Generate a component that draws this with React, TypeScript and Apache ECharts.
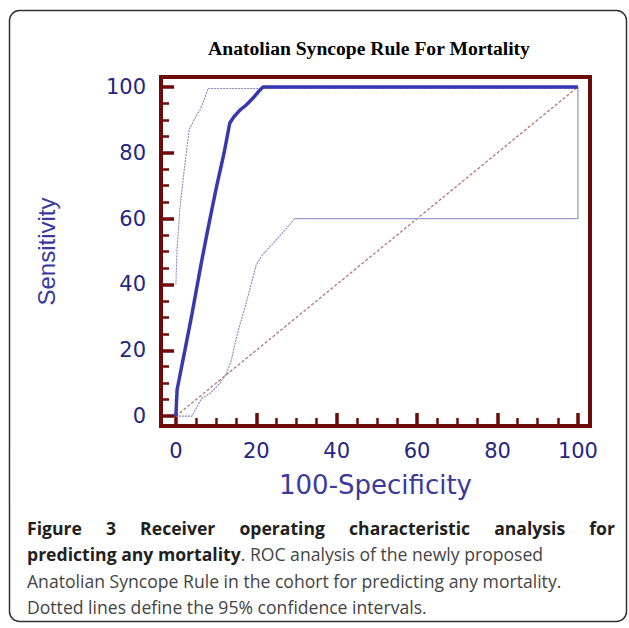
import React, { useEffect, useRef } from "react";
import * as echarts from "echarts";

const TITLE = "Anatolian Syncope Rule For Mortality";
const X_NAME = "100-Specificity";
const Y_NAME = "Sensitivity";
const MAJOR_TICKS = [0, 20, 40, 60, 80, 100];
const MINOR_TICKS = [5, 10, 15, 25, 30, 35, 45, 50, 55, 65, 70, 75, 85, 90, 95];

const rocX = [0, 0.3, 2, 4, 6.4, 8, 10, 12, 13.4, 14.5, 16, 17.5, 19.2, 20.5, 21.7, 100];
const rocY = [0, 8, 18.5, 31, 47, 57, 69, 80, 89, 91, 93, 94.5, 96.6, 98.5, 100, 100];

const upperX = [0, 0.3, 1, 1.8, 2.5, 3.3, 4.5, 6, 7, 8, 100];
const upperY = [40, 51, 63, 72, 79, 87, 90, 93, 96, 99.5, 99.5];

const lowerX = [0, 4, 6.4, 8.5, 10.9, 12.6, 13.8, 14.7, 15.5, 17.2, 20, 21.5, 24.2, 27.1, 29.6];
const lowerY = [0, 0, 5.4, 6.9, 9.9, 13, 17, 22, 26, 33, 46, 49, 52.5, 56.5, 60];

const lowerTailX = [29.6, 100, 100];
const lowerTailY = [60, 60, 100];

const diagX = [0, 100];
const diagY = [0, 100];

const CAPTION_L1 = ["Figure", "3", "Receiver", "operating", "characteristic", "analysis", "for"];
const CAPTION_L2_BOLD = "predicting any mortality";
const CAPTION_L2_NORMAL = ". ROC analysis of the newly proposed";
const CAPTION_L3 = "Anatolian Syncope Rule in the cohort for predicting any mortality.";
const CAPTION_L4 = "Dotted lines define the 95% confidence intervals.";

const zip = (xs: number[], ys: number[]) => xs.map((x, i) => [x, ys[i]]);

export default function App() {
  const ref = useRef<HTMLDivElement>(null);
  useEffect(() => {
    if (!ref.current) return;
    const chart = echarts.init(ref.current, undefined, { renderer: "svg" });

    const capFont = '"Open Sans", sans-serif';
    const capSize = 17.6;
    const canvas = document.createElement("canvas");
    const ctx = canvas.getContext("2d")!;
    ctx.font = `bold ${capSize}px "Open Sans"`;
    const widths = CAPTION_L1.map((w) => ctx.measureText(w).width);
    const lineLeft = 27;
    const lineRight = 615;
    const total = widths.reduce((a, b) => a + b, 0);
    const gap = (lineRight - lineLeft - total) / (CAPTION_L1.length - 1);
    let cx = lineLeft;
    const line1 = CAPTION_L1.map((w, i) => {
      const el = {
        type: "text",
        x: cx,
        y: 528,
        style: {
          text: w,
          fontFamily: capFont,
          fontSize: capSize,
          fontWeight: "bold",
          fill: "#231f20",
          verticalAlign: "middle",
          align: "left",
        },
      };
      cx += widths[i] + gap;
      return el;
    });

    const axisColor = "#6e0a0a";
    const labelColor = "#262680";
    const nameColor = "#3a3a9e";

    const baseAxis = {
      type: "value",
      axisLine: { show: false, onZero: false },
      splitLine: { show: false },
    };

    chart.setOption({
      animation: false,
      backgroundColor: "#ffffff",
      title: {
        text: TITLE,
        left: 369,
        textAlign: "center",
        top: 38,
        padding: 0,
        textStyle: {
          fontFamily: '"Liberation Serif", serif',
          fontWeight: "bold",
          fontSize: 19.6,
          color: "#000",
        },
      },
      grid: {
        left: 161,
        top: 77,
        width: 429,
        height: 349,
        show: true,
        borderColor: axisColor,
        borderWidth: 4,
        backgroundColor: "transparent",
      },
      xAxis: [
        {
          ...baseAxis,
          min: -3.7,
          max: 103,
          position: "bottom",
          axisTick: {
            show: true,
            inside: true,
            length: 13,
            customValues: MAJOR_TICKS,
            lineStyle: { color: axisColor, width: 3.5 },
          },
          axisLabel: {
            customValues: MAJOR_TICKS,
            margin: 14,
            fontSize: 21,
            fontFamily: '"DejaVu Sans", sans-serif',
            color: labelColor,
          },
          name: X_NAME,
          nameLocation: "middle",
          nameGap: 46,
          nameTextStyle: {
            fontSize: 26,
            fontFamily: '"DejaVu Sans", sans-serif',
            color: nameColor,
          },
        },
        {
          ...baseAxis,
          min: -3.7,
          max: 103,
          position: "bottom",
          axisTick: {
            show: true,
            inside: true,
            length: 8,
            customValues: MINOR_TICKS,
            lineStyle: { color: axisColor, width: 2.5 },
          },
          axisLabel: { show: false },
        },
      ],
      yAxis: [
        {
          ...baseAxis,
          min: -3,
          max: 103,
          position: "left",
          axisTick: {
            show: true,
            inside: true,
            length: 13,
            customValues: MAJOR_TICKS,
            lineStyle: { color: axisColor, width: 3.5 },
          },
          axisLabel: {
            customValues: MAJOR_TICKS,
            margin: 15,
            fontSize: 21,
            fontFamily: '"DejaVu Sans", sans-serif',
            color: labelColor,
          },
          name: Y_NAME,
          nameLocation: "middle",
          nameGap: 103,
          nameTextStyle: {
            fontSize: 24,
            fontFamily: '"Liberation Sans", Arial, sans-serif',
            color: nameColor,
          },
        },
        {
          ...baseAxis,
          min: -3,
          max: 103,
          position: "left",
          axisTick: {
            show: true,
            inside: true,
            length: 8,
            customValues: MINOR_TICKS,
            lineStyle: { color: axisColor, width: 2.5 },
          },
          axisLabel: { show: false },
        },
      ],
      series: [
        {
          name: "Reference",
          type: "line",
          data: zip(diagX, diagY),
          symbol: "none",
          lineStyle: { color: "#b87474", width: 1.3, type: [3, 2] },
          z: 2,
        },
        {
          name: "Upper 95% CI",
          type: "line",
          data: zip(upperX, upperY),
          symbol: "none",
          lineStyle: { color: "#8585bd", width: 1.1, type: [2, 1] },
          z: 3,
        },
        {
          name: "Lower 95% CI",
          type: "line",
          data: zip(lowerX, lowerY),
          symbol: "none",
          lineStyle: { color: "#8585bd", width: 1.1, type: [2, 1] },
          z: 3,
        },
        {
          name: "Lower 95% CI tail",
          type: "line",
          data: zip(lowerTailX, lowerTailY),
          symbol: "none",
          lineStyle: { color: "#9a9acc", width: 1.3 },
          z: 3,
        },
        {
          name: "ROC",
          type: "line",
          data: zip(rocX, rocY),
          symbol: "none",
          lineStyle: { color: "#3838b0", width: 3.5 },
          z: 4,
        },
      ],
      graphic: [
        {
          type: "rect",
          shape: { x: 9.5, y: 10.5, width: 617, height: 611, r: 10 },
          style: { fill: "none", stroke: "#333", lineWidth: 1.5 },
          silent: true,
        },
        ...line1,
        {
          type: "text",
          x: 27,
          y: 554,
          style: {
            text: `{b|${CAPTION_L2_BOLD}}{n|${CAPTION_L2_NORMAL}}`,
            verticalAlign: "middle",
            rich: {
              b: { fontFamily: capFont, fontSize: capSize, fontWeight: "bold", fill: "#231f20" },
              n: { fontFamily: capFont, fontSize: capSize, fill: "#444" },
            },
          },
        },
        {
          type: "text",
          x: 27,
          y: 581,
          style: {
            text: CAPTION_L3,
            fontFamily: capFont,
            fontSize: capSize,
            fill: "#444",
            verticalAlign: "middle",
          },
        },
        {
          type: "text",
          x: 27,
          y: 607,
          style: {
            text: CAPTION_L4,
            fontFamily: capFont,
            fontSize: capSize,
            fill: "#444",
            verticalAlign: "middle",
          },
        },
      ],
    });
    return () => chart.dispose();
  }, []);
  return (
    <div
      ref={ref}
      style={{ position: "fixed", left: 0, top: 0, width: 629, height: 628, background: "#fff" }}
    />
  );
}
